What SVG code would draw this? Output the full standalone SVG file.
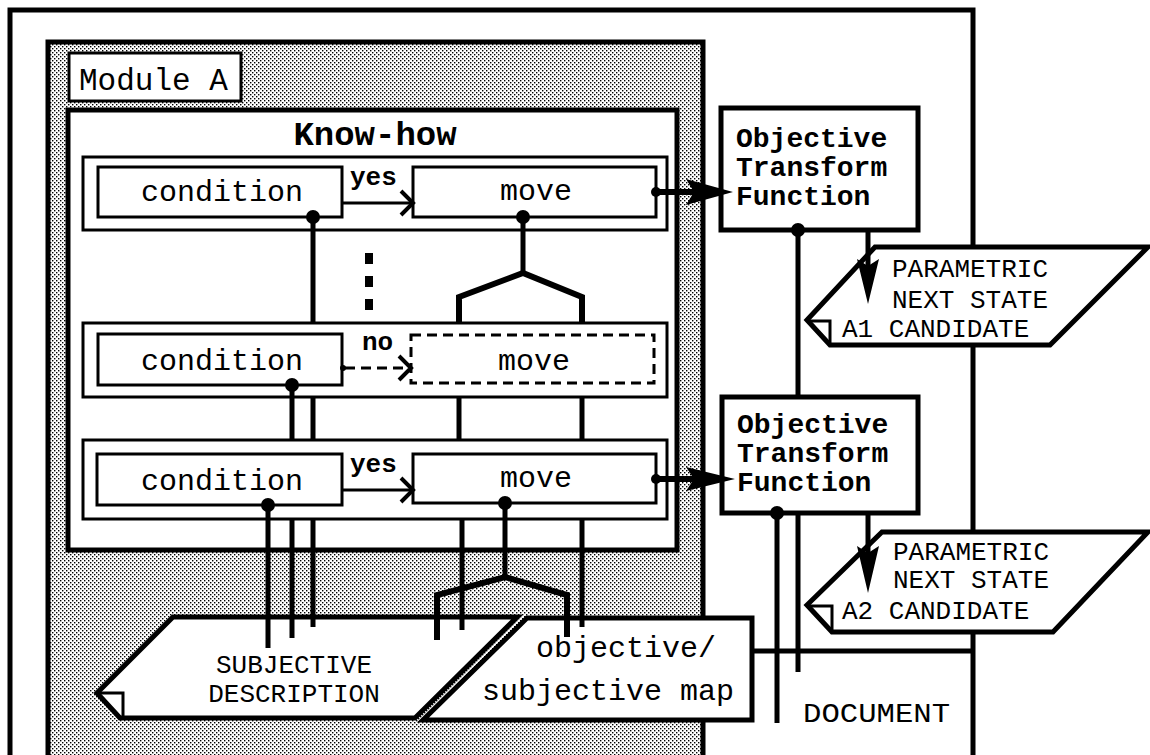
<svg xmlns="http://www.w3.org/2000/svg" width="1150" height="755" viewBox="0 0 1150 755">
<defs>
<pattern id="dots" width="4" height="4" patternUnits="userSpaceOnUse">
<rect width="4" height="4" fill="#fff"/>
<rect x="0" y="0" width="1.4" height="1.4" fill="#000"/>
<rect x="2" y="2" width="1.4" height="1.4" fill="#000"/>
</pattern>
</defs>
<style>
.thick{fill:#fff;stroke:#000;stroke-width:5}
.thin{fill:#fff;stroke:#000;stroke-width:3}
.dash{fill:#fff;stroke:#000;stroke-width:3;stroke-dasharray:10 6}
.ln{fill:none;stroke:#000;stroke-width:5}
.ln3{fill:none;stroke:#000;stroke-width:3}
.head{fill:#000;stroke:none}
.t{font-family:"Liberation Mono","Courier New",monospace;fill:#000}
.b{font-family:"Liberation Mono","Courier New",monospace;font-weight:bold;fill:#000}
</style>
<rect width="1150" height="755" fill="#fff"/>
<g id="document">
<path d="M10,770 V10 H973 V770" class="ln"/>
<line x1="752" y1="651" x2="973" y2="651" class="ln"/>
<text x="803" y="722" class="t" font-size="28" textLength="147" lengthAdjust="spacingAndGlyphs">DOCUMENT</text>
</g>
<g id="moduleA">
<rect x="48" y="42" width="655" height="740" fill="url(#dots)" stroke="#000" stroke-width="5"/>
<rect x="69" y="53" width="172" height="48" class="thin"/>
<text x="79" y="90" class="t" font-size="31">Module A</text>
</g>
<g id="knowhow">
<rect x="68" y="110" width="609" height="440" class="thick"/>
<text x="375" y="145" class="b" font-size="34" text-anchor="middle">Know-how</text>
</g>
<g id="rule1">
<rect x="83" y="157" width="584" height="73" class="thin"/>
<rect x="98" y="167" width="244" height="50" class="thin"/>
<text x="222" y="201" class="t" font-size="30" text-anchor="middle">condition</text>
<rect x="413" y="167" width="243" height="50" class="thin"/>
<text x="536" y="200" class="t" font-size="30" text-anchor="middle">move</text>
</g>
<g id="rule2">
<rect x="83" y="323" width="584" height="74" class="thin"/>
<rect x="98" y="334" width="244" height="51" class="thin"/>
<text x="222" y="370" class="t" font-size="30" text-anchor="middle">condition</text>
<rect x="411" y="335" width="243" height="48" class="dash"/>
<text x="534" y="370" class="t" font-size="30" text-anchor="middle">move</text>
</g>
<g id="rule3">
<rect x="83" y="440" width="584" height="79" class="thin"/>
<rect x="97" y="454" width="245" height="51" class="thin"/>
<text x="222" y="490" class="t" font-size="30" text-anchor="middle">condition</text>
<rect x="413" y="454" width="243" height="49" class="thin"/>
<text x="536" y="487" class="t" font-size="30" text-anchor="middle">move</text>
</g>
<g id="otf1">
<rect x="721" y="108" width="197" height="122" class="thick"/>
<text class="b" font-size="28"><tspan x="736" y="147">Objective</tspan><tspan x="736" y="176">Transform</tspan><tspan x="736" y="205">Function</tspan></text>
</g>
<g id="otf2">
<rect x="722" y="397" width="196" height="116" class="thick"/>
<text class="b" font-size="28"><tspan x="737" y="433">Objective</tspan><tspan x="737" y="462">Transform</tspan><tspan x="737" y="491">Function</tspan></text>
</g>
<g id="candidateA1">
<polygon points="875,247 1148,247 1050,345 830,345 807,320" class="thick"/>
<path d="M807,321 H830 V345" class="ln3"/>
<text class="t" font-size="26"><tspan x="892" y="277">PARAMETRIC</tspan><tspan x="892" y="308">NEXT STATE</tspan><tspan x="842" y="337">A1 CANDIDATE</tspan></text>
</g>
<g id="candidateA2">
<polygon points="882,532 1148,532 1053,632 832,632 807,605" class="thick"/>
<path d="M807,606 H832 V632" class="ln3"/>
<text class="t" font-size="26"><tspan x="893" y="560">PARAMETRIC</tspan><tspan x="893" y="588">NEXT STATE</tspan><tspan x="842" y="619">A2 CANDIDATE</tspan></text>
</g>
<g id="subjective">
<polygon points="173,617 517,617 415,718 120,718 97,693" class="thick"/>
<path d="M97,693 H123 V718" class="ln3"/>
<text class="t" font-size="26" text-anchor="middle"><tspan x="294" y="673">SUBJECTIVE</tspan><tspan x="294" y="702">DESCRIPTION</tspan></text>
</g>
<g id="map">
<polygon points="527,618 752,618 752,720 423,720" class="thick"/>
<text class="t" font-size="30"><tspan x="536" y="657">objective/</tspan><tspan x="482" y="700">subjective map</tspan></text>
</g>
<g id="connectors">
<circle cx="313" cy="217" r="7"/>
<line x1="313" y1="217" x2="313" y2="323" class="ln"/>
<line x1="313" y1="397" x2="313" y2="440" class="ln"/>
<line x1="313" y1="519" x2="313" y2="627" class="ln"/>
<circle cx="292" cy="385" r="7"/>
<line x1="292" y1="385" x2="292" y2="440" class="ln"/>
<line x1="292" y1="519" x2="292" y2="638" class="ln"/>
<circle cx="268" cy="505" r="7"/>
<line x1="268" y1="505" x2="268" y2="648" class="ln"/>
<text x="350" y="185" class="b" font-size="26">yes</text>
<line x1="342" y1="203" x2="412" y2="203" class="ln3"/>
<path d="M401,191 L413,203 L401,215" class="ln3" style="stroke-width:4"/>
<text x="362" y="350" class="b" font-size="26">no</text>
<circle cx="343" cy="368" r="3"/>
<line x1="345" y1="368" x2="409" y2="368" class="ln3" style="stroke-dasharray:10 6"/>
<path d="M399,356 L411,368 L399,380" class="ln3" style="stroke-width:4"/>
<text x="350" y="472" class="b" font-size="26">yes</text>
<line x1="342" y1="490" x2="412" y2="490" class="ln3"/>
<path d="M401,478 L413,490 L401,502" class="ln3" style="stroke-width:4"/>
<rect x="365" y="253" width="8" height="11"/>
<rect x="365" y="276" width="8" height="11"/>
<rect x="365" y="299" width="8" height="11"/>
<circle cx="523" cy="217" r="7"/>
<line x1="523" y1="217" x2="523" y2="273" class="ln"/>
<path d="M459,322 V297 L523,273 L582,297 V322" class="ln" style="stroke-width:6"/>
<line x1="459" y1="397" x2="459" y2="440" class="ln"/>
<line x1="582" y1="397" x2="582" y2="440" class="ln"/>
<circle cx="505" cy="503" r="7"/>
<line x1="505" y1="503" x2="505" y2="577" class="ln"/>
<path d="M437,640 V595 L505,577 L567,595 V637" class="ln" style="stroke-width:6"/>
<line x1="462" y1="519" x2="462" y2="630" class="ln"/>
<line x1="582" y1="519" x2="582" y2="627" class="ln"/>
<circle cx="656" cy="192" r="5"/>
<line x1="656" y1="192" x2="700" y2="192" class="ln" style="stroke-width:6"/>
<polygon points="686,179 733,192 686,205 694,192" class="head"/>
<circle cx="656" cy="479" r="5"/>
<line x1="656" y1="479" x2="700" y2="479" class="ln" style="stroke-width:6"/>
<polygon points="686,467 735,479 686,491 694,479" class="head"/>
<circle cx="798" cy="230" r="7"/>
<line x1="798" y1="230" x2="798" y2="397" class="ln"/>
<line x1="868" y1="230" x2="868" y2="270" class="ln"/>
<polygon points="857,259 868,304 879,259 868,266" class="head"/>
<circle cx="777" cy="513" r="7"/>
<line x1="777" y1="513" x2="777" y2="723" class="ln"/>
<line x1="798" y1="513" x2="798" y2="672" class="ln"/>
<line x1="868" y1="513" x2="868" y2="555" class="ln"/>
<polygon points="857,546 868,593 879,546 868,553" class="head"/>
</g>
</svg>
